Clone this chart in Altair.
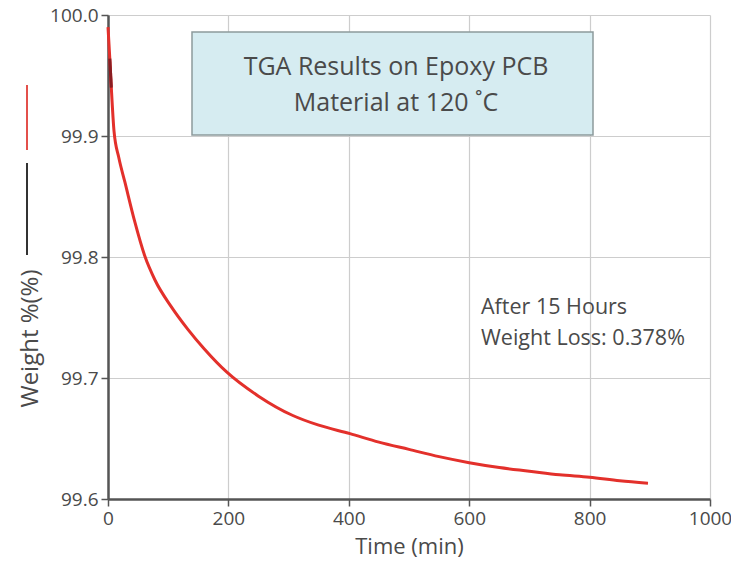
import altair as alt
import pandas as pd

# TGA weight-loss curve of epoxy PCB material held at 120 °C
time_min = [0, 3, 5.5, 10, 18, 28, 44, 61, 78, 105, 133, 160, 197,
            250, 307, 350, 402, 450, 500, 550, 600, 650, 700, 750, 800, 850, 897]
weight_pct = [99.990, 99.964, 99.940, 99.904, 99.882, 99.862, 99.830, 99.801,
              99.781, 99.759, 99.740, 99.724, 99.705, 99.685, 99.669, 99.661,
              99.654, 99.647, 99.641, 99.635, 99.630, 99.626, 99.623, 99.620,
              99.618, 99.615, 99.613]

# short overlapping trace of the second (black) channel near the start
trace_time = [3, 5.5]
trace_weight = [99.964, 99.940]

x_ticks = [0, 200, 400, 600, 800, 1000]
y_ticks = [99.6, 99.7, 99.8, 99.9, 100.0]

title_lines = ["TGA Results on Epoxy PCB", "Material at 120 \u02daC"]
note_lines = ["After 15 Hours", "Weight Loss: 0.378%"]

FONT = "Open Sans"
TEXT = "#4a4a4a"

curve = pd.DataFrame({"t": time_min, "w": weight_pct})
trace = pd.DataFrame({"t": trace_time, "w": trace_weight})
one_row = pd.DataFrame({"k": [0]})

x_enc = alt.X(
    "t:Q",
    scale=alt.Scale(domain=[0, 1000], nice=False),
    axis=alt.Axis(
        values=x_ticks, format="d", title="Time (min)", titleY=37,
        labelFlush=False, titleFontSize=22,
    ),
)
y_enc = alt.Y(
    "w:Q",
    scale=alt.Scale(domain=[99.6, 100.0], nice=False, zero=False),
    axis=alt.Axis(
        values=y_ticks, format=".1f", title="Weight %(%)",
        titleX=-78, titleY=323, titleAngle=270, titleBaseline="middle",
        titleAlign="center", titleFontSize=24, labelFlush=False,
    ),
)

line = alt.Chart(curve).mark_line(
    color="#e3302b", strokeWidth=3, interpolate="monotone"
).encode(x=x_enc, y=y_enc)

dark = alt.Chart(trace).mark_line(
    color="#8a1d22", strokeWidth=3
).encode(x="t:Q", y="w:Q")

# caption box over the upper part of the plot
box = alt.Chart(one_row).mark_rect(
    fill="#d6ecf1", stroke="#8d9a9c", strokeWidth=1.5
).encode(
    x=alt.value(84), x2=alt.value(485), y=alt.value(17), y2=alt.value(120)
)

title_text = alt.Chart(one_row).mark_text(
    font=FONT, fontSize=25, color=TEXT, align="center",
    baseline="alphabetic", lineHeight=36,
).encode(x=alt.value(288), y=alt.value(60), text=alt.value(title_lines))

note_text = alt.Chart(one_row).mark_text(
    font=FONT, fontSize=21.5, color=TEXT, align="left",
    baseline="alphabetic", lineHeight=31,
).encode(x=alt.value(373), y=alt.value(299), text=alt.value(note_lines))

# red / black channel markers beside the y-axis title
red_key = alt.Chart(one_row).mark_rule(
    color="#e3504b", strokeWidth=2
).encode(x=alt.value(-81), y=alt.value(70), y2=alt.value(135))
black_key = alt.Chart(one_row).mark_rule(
    color="#333333", strokeWidth=2
).encode(x=alt.value(-81), y=alt.value(148), y2=alt.value(240))

chart = alt.layer(
    line, dark, box, title_text, note_text, red_key, black_key
).properties(
    width=602,
    height=484,
    autosize=alt.AutoSizeParams(type="none"),
    padding={"left": 108, "top": 15, "right": 21, "bottom": 69},
    background="white",
).configure_view(stroke=None).configure_axis(
    labelFont=FONT,
    titleFont=FONT,
    labelFontSize=19,
    titleFontWeight="normal",
    labelColor=TEXT,
    titleColor=TEXT,
    domainColor="#555555",
    domainWidth=2.5,
    tickColor="#555555",
    tickWidth=1.5,
    tickSize=7,
    labelPadding=3,
    gridColor="#cdcdcd",
    gridWidth=1.2,
)

chart.save("out.html", embed_options={"renderer": "svg", "actions": False})
